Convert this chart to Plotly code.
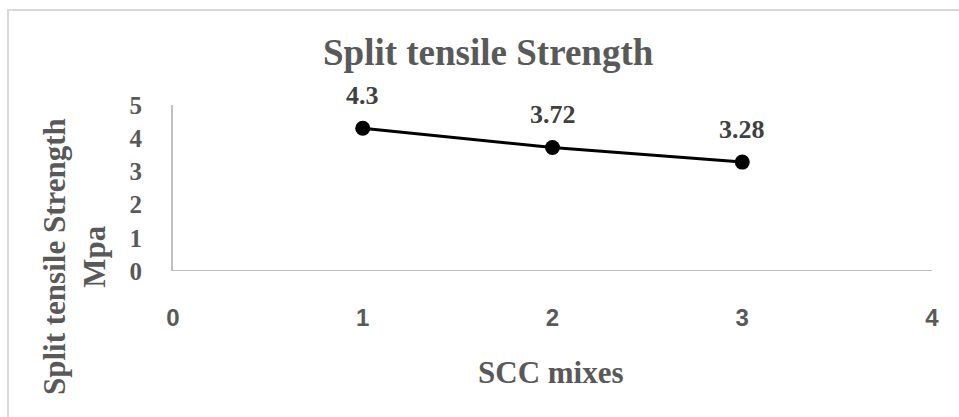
import plotly.graph_objects as go

mixes = [1, 2, 3]
strength = [4.3, 3.72, 3.28]
labels = ["4.3", "3.72", "3.28"]
x_ticks = [0, 1, 2, 3, 4]
y_ticks = [0, 1, 2, 3, 4, 5]

GRAY = "#595959"
DARK = "#404040"
SERIF = "Liberation Serif, Times New Roman, serif"
SANS = "Liberation Sans, Arial, sans-serif"

W, H = 959, 417
L, R, T, B = 173, 27, 105, 146

fig = go.Figure()
fig.add_trace(go.Scatter(
    x=mixes, y=strength, mode="lines+markers",
    line=dict(color="black", width=3),
    marker=dict(color="black", size=15),
    showlegend=False, hoverinfo="skip",
))

for xv, yv, t in zip(mixes, strength, labels):
    fig.add_annotation(x=xv, y=yv, text=t, showarrow=False,
                       xanchor="center", yanchor="middle",
                       yshift=33, font=dict(family=SERIF, size=26, color=DARK, weight="bold"))

def px_x(p):
    return (p - L) / (W - L - R)

def px_y(p):
    return (H - B - p) / (H - T - B)

fig.add_annotation(xref="paper", yref="paper", x=px_x(488), y=px_y(52),
                   xanchor="center", yanchor="middle",
                   text="Split tensile Strength", showarrow=False,
                   font=dict(family=SERIF, size=37, color=GRAY, weight="bold"))
fig.add_annotation(xref="paper", yref="paper", x=px_x(551), y=px_y(372),
                   xanchor="center", yanchor="middle",
                   text="SCC mixes", showarrow=False,
                   font=dict(family=SERIF, size=31, color=GRAY, weight="bold"))
fig.add_annotation(xref="paper", yref="paper", x=px_x(74), y=px_y(257),
                   xanchor="center", yanchor="middle",
                   text="Split tensile Strength<br>Mpa", showarrow=False,
                   textangle=-90,
                   font=dict(family=SERIF, size=31, color=GRAY, weight="bold"))

fig.add_shape(type="rect", xref="paper", yref="paper",
              x0=px_x(8), x1=px_x(1000), y0=px_y(460), y1=px_y(10),
              line=dict(color="#D9D9D9", width=2), layer="below")

fig.update_xaxes(range=[0, 4], tickvals=x_ticks, ticktext=[str(v) for v in x_ticks],
                 showgrid=False, zeroline=False, showline=False,
                 ticks="", ticklabelstandoff=30,
                 tickfont=dict(family=SANS, size=24, color=GRAY, weight="bold"))
fig.update_yaxes(range=[0, 5], tickvals=y_ticks, ticktext=[str(v) for v in y_ticks],
                 showgrid=False, zeroline=False, showline=True,
                 linecolor="#BFBFBF", linewidth=2,
                 ticks="", ticklabelstandoff=24,
                 tickfont=dict(family=SERIF, size=25, color=GRAY, weight="bold"))
fig.add_shape(type="line", xref="x", yref="y", x0=0, x1=4, y0=0, y1=0,
              line=dict(color="#BFBFBF", width=2), layer="below")

fig.update_layout(
    width=W, height=H,
    margin=dict(l=L, r=R, t=T, b=B),
    paper_bgcolor="white", plot_bgcolor="white",
    font=dict(family=SERIF, color=GRAY),
)

fig.write_html("out.html", config={"displayModeBar": False},
               post_script="document.body.style.margin='0';")
